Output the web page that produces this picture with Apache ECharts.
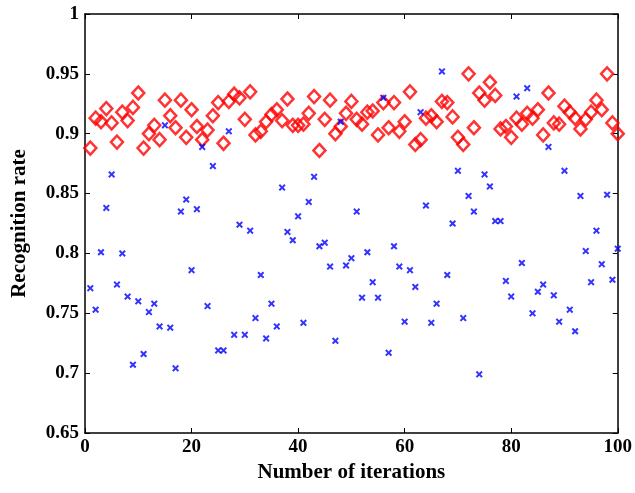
<!DOCTYPE html>
<html>
<head>
<meta charset="utf-8">
<script src="https://cdn.jsdelivr.net/npm/echarts@6/dist/echarts.min.js"></script>
<style>html,body{margin:0;padding:0;background:#fff}#c{width:635px;height:493px}</style>
</head>
<body>
<div id="c"></div>
<script>
var iterations = [];
for (var i = 1; i <= 100; i++) iterations.push(i);

var redRates = [
  0.888, 0.913, 0.910, 0.921, 0.909, 0.893, 0.918, 0.911, 0.922, 0.934,
  0.888, 0.900, 0.907, 0.895, 0.928, 0.915, 0.905, 0.928, 0.897, 0.920,
  0.906, 0.895, 0.903, 0.915, 0.926, 0.892, 0.927, 0.933, 0.930, 0.912,
  0.935, 0.899, 0.902, 0.910, 0.916, 0.920, 0.911, 0.929, 0.907, 0.907,
  0.908, 0.917, 0.931, 0.886, 0.912, 0.928, 0.900, 0.906, 0.917, 0.927,
  0.912, 0.908, 0.918, 0.919, 0.899, 0.926, 0.905, 0.926, 0.902, 0.910,
  0.935, 0.891, 0.895, 0.913, 0.915, 0.910, 0.927, 0.926, 0.914, 0.897,
  0.891, 0.950, 0.905, 0.934, 0.928, 0.943, 0.932, 0.904, 0.906, 0.897,
  0.913, 0.908, 0.917, 0.913, 0.920, 0.899, 0.934, 0.909, 0.908, 0.923,
  0.918, 0.913, 0.904, 0.912, 0.918, 0.928, 0.920, 0.950, 0.909, 0.900
];

var blueRates = [
  0.771, 0.753, 0.801, 0.838, 0.866, 0.774, 0.800, 0.764, 0.707, 0.760,
  0.716, 0.751, 0.758, 0.739, 0.907, 0.738, 0.704, 0.835, 0.845, 0.786,
  0.837, 0.889, 0.756, 0.873, 0.719, 0.719, 0.902, 0.732, 0.824, 0.732,
  0.819, 0.746, 0.782, 0.729, 0.758, 0.739, 0.855, 0.818, 0.811, 0.831,
  0.742, 0.843, 0.864, 0.806, 0.809, 0.789, 0.727, 0.910, 0.790, 0.796,
  0.835, 0.763, 0.801, 0.776, 0.763, 0.930, 0.717, 0.806, 0.789, 0.743,
  0.786, 0.772, 0.918, 0.840, 0.742, 0.758, 0.952, 0.782, 0.825, 0.869,
  0.746, 0.848, 0.835, 0.699, 0.866, 0.856, 0.827, 0.827, 0.777, 0.764,
  0.931, 0.792, 0.938, 0.750, 0.768, 0.774, 0.889, 0.765, 0.743, 0.869,
  0.753, 0.735, 0.848, 0.802, 0.776, 0.819, 0.791, 0.849, 0.778, 0.804
];

var xTicks = [0, 20, 40, 60, 80, 100];
var yTicks = [0.65, 0.7, 0.75, 0.8, 0.85, 0.9, 0.95, 1];

var FONT = '"Liberation Serif", "Times New Roman", serif';
var chart = echarts.init(document.getElementById('c'), null, {renderer: 'canvas'});

function pairs(ys) { return iterations.map(function (x, k) { return [x, ys[k]]; }); }

var xPath = 'path://M0,2 L2,0 L5,3 L8,0 L10,2 L7,5 L10,8 L8,10 L5,7 L2,10 L0,8 L3,5 Z';

var tickCommon = {show: true, inside: true, length: 5, lineStyle: {color: '#000', width: 1}};
var lineCommon = {show: true, onZero: false, lineStyle: {color: '#000', width: 1.5}};

chart.setOption({
  animation: false,
  backgroundColor: '#fff',
  grid: {left: 85, right: 14, top: 14, bottom: 60, containLabel: false},
  xAxis: [{
    type: 'value', min: 0, max: 100, interval: 20,
    axisLine: lineCommon, axisTick: tickCommon, splitLine: {show: false},
    axisLabel: {color: '#000', fontFamily: FONT, fontWeight: 'bold', fontSize: 19, margin: 5,
      formatter: function (v) { return xTicks.indexOf(v) >= 0 ? String(v) : ''; }},
    name: 'Number of iterations', nameLocation: 'middle', nameGap: 25,
    nameTextStyle: {color: '#000', fontFamily: FONT, fontWeight: 'bold', fontSize: 21}
  }, {
    type: 'value', min: 0, max: 100, interval: 20, position: 'top',
    axisLine: lineCommon, axisTick: tickCommon, axisLabel: {show: false}, splitLine: {show: false}
  }],
  yAxis: [{
    type: 'value', min: 0.65, max: 1, interval: 0.05,
    axisLine: lineCommon, axisTick: tickCommon, splitLine: {show: false},
    axisLabel: {color: '#000', fontFamily: FONT, fontWeight: 'bold', fontSize: 19, margin: 6,
      formatter: function (v) {
        var r = Math.round(v * 100) / 100;
        return yTicks.indexOf(r) >= 0 ? String(r) : '';
      }},
    name: 'Recognition rate', nameLocation: 'middle', nameGap: 55, nameRotate: 90,
    nameTextStyle: {color: '#000', fontFamily: FONT, fontWeight: 'bold', fontSize: 21}
  }, {
    type: 'value', min: 0.65, max: 1, interval: 0.05, position: 'right',
    axisLine: lineCommon, axisTick: tickCommon, axisLabel: {show: false}, splitLine: {show: false}
  }],
  series: [{
    type: 'scatter', name: 'red', data: pairs(redRates),
    symbol: 'diamond', symbolSize: [12, 13],
    itemStyle: {color: 'rgba(255,255,255,0)', borderColor: '#ff0000', borderWidth: 2.5}
  }, {
    type: 'scatter', name: 'blue', data: pairs(blueRates),
    symbol: xPath, symbolSize: 7,
    itemStyle: {color: '#0000ff'}
  }]
});
</script>
</body>
</html>
